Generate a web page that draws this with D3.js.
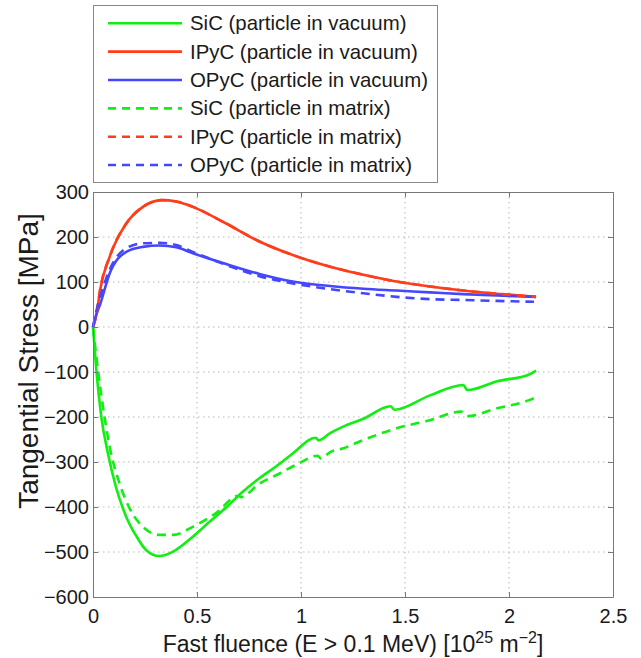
<!DOCTYPE html>
<html>
<head>
<meta charset="utf-8">
<script src="https://cdn.jsdelivr.net/npm/d3@7"></script>
<style>
  body { margin: 0; background: #fff; }
  svg { display: block; font-family: "Liberation Sans", Arial, sans-serif; }
</style>
</head>
<body>
<div id="chart"></div>
<script>
// values: fast fluence [1e25 m^-2] vs tangential stress [MPa]
var ipycVacX = [0, 0.018, 0.034, 0.08, 0.16, 0.24, 0.33, 0.40, 0.48, 0.64, 0.80, 0.96, 1.14, 1.30, 1.46, 1.62, 1.78, 1.94, 2.13];
var ipycVacY = [0, 31, 82, 156, 230, 267, 282, 279, 267, 230, 190, 160, 134, 116, 101, 90, 81, 74, 67];

var opycVacX = [0, 0.016, 0.034, 0.08, 0.16, 0.24, 0.32, 0.40, 0.48, 0.64, 0.80, 0.96, 1.14, 1.30, 1.46, 1.62, 1.78, 1.94, 2.13];
var opycVacY = [0, 28, 50, 119, 167, 178, 181, 177, 164, 140, 118, 101, 91, 85, 81, 77, 73, 70, 67];

var sicVacX = [0, 0.016, 0.04, 0.072, 0.11, 0.16, 0.21, 0.256, 0.32, 0.385, 0.48, 0.56, 0.64, 0.72, 0.80, 0.88, 0.96, 1.07, 1.085, 1.14, 1.20, 1.30, 1.43, 1.45, 1.62, 1.78, 1.80, 1.94, 2.10, 2.13];
var sicVacY = [0, -96, -200, -281, -355, -422, -466, -496, -509, -499, -466, -433, -401, -366, -336, -310, -281, -246, -252, -236, -222, -204, -176, -184, -152, -129, -140, -121, -105, -97];

var sicMatX = [0, 0.024, 0.048, 0.08, 0.128, 0.176, 0.24, 0.32, 0.385, 0.48, 0.59, 0.70, 0.71, 0.80, 0.90, 0.99, 1.08, 1.095, 1.14, 1.20, 1.30, 1.46, 1.62, 1.77, 1.80, 1.94, 2.10, 2.13];
var sicMatY = [0, -96, -177, -266, -348, -403, -444, -462, -462, -444, -414, -375, -378, -348, -325, -303, -286, -292, -278, -270, -251, -225, -207, -188, -198, -181, -162, -156];

var ipycMatX = [0, 0.018, 0.034, 0.08, 0.16, 0.24, 0.33, 0.40, 0.48, 0.64, 0.80, 0.96, 1.14, 1.30, 1.46, 1.62, 1.78, 1.94, 2.13];
var ipycMatY = [0, 31, 82, 156, 230, 267, 282, 279, 267, 230, 190, 160, 134, 116, 101, 90, 81, 74, 67];

var opycMatX = [0, 0.016, 0.04, 0.08, 0.16, 0.24, 0.32, 0.40, 0.48, 0.64, 0.80, 0.96, 1.14, 1.30, 1.46, 1.62, 1.78, 1.94, 2.12];
var opycMatY = [0, 35, 75, 127, 175, 186, 187, 182, 167, 138, 113, 97, 84, 75, 67, 62, 60, 58, 56];

var xTicks = [0, 0.5, 1, 1.5, 2, 2.5];
var yTicks = [-600, -500, -400, -300, -200, -100, 0, 100, 200, 300];

var seriesNames = ["SiC (particle in vacuum)", "IPyC (particle in vacuum)", "OPyC (particle in vacuum)",
                   "SiC (particle in matrix)", "IPyC (particle in matrix)", "OPyC (particle in matrix)"];

var W = 641, H = 658;
var plotLeft = 93, plotRight = 613, plotTop = 192, plotBottom = 597;

var green = "#11ee11", red = "#ff3d1a", blue = "#4646ff";

var series = [
  { name: seriesNames[0], xs: sicVacX, ys: sicVacY, color: green, dash: null },
  { name: seriesNames[1], xs: ipycVacX, ys: ipycVacY, color: red, dash: null },
  { name: seriesNames[2], xs: opycVacX, ys: opycVacY, color: blue, dash: null },
  { name: seriesNames[3], xs: sicMatX, ys: sicMatY, color: green, dash: "9,6" },
  { name: seriesNames[4], xs: ipycMatX, ys: ipycMatY, color: red, dash: "9,6" },
  { name: seriesNames[5], xs: opycMatX, ys: opycMatY, color: blue, dash: "9,6" }
];

var svg = d3.select("#chart").append("svg")
    .attr("width", W)
    .attr("height", H);

var x = d3.scaleLinear().domain([0, 2.5]).range([plotLeft, plotRight]);
var y = d3.scaleLinear().domain([-600, 300]).range([plotBottom, plotTop]);

// dotted grid
var grid = svg.append("g").attr("class", "grid");
grid.selectAll("line.gx")
    .data(xTicks.slice(1, -1))
    .enter().append("line")
    .attr("x1", function (d) { return x(d); })
    .attr("x2", function (d) { return x(d); })
    .attr("y1", plotTop).attr("y2", plotBottom)
    .attr("stroke", "#b5b5b5").attr("stroke-width", 1)
    .attr("stroke-dasharray", "1.5,3.5");
grid.selectAll("line.gy")
    .data(yTicks.slice(1, -1))
    .enter().append("line")
    .attr("y1", function (d) { return y(d); })
    .attr("y2", function (d) { return y(d); })
    .attr("x1", plotLeft).attr("x2", plotRight)
    .attr("stroke", "#b5b5b5").attr("stroke-width", 1)
    .attr("stroke-dasharray", "1.5,3.5");

// curves
var line = d3.line()
    .x(function (d) { return x(d[0]); })
    .y(function (d) { return y(d[1]); })
    .curve(d3.curveMonotoneX);

svg.append("g").selectAll("path")
    .data(series)
    .enter().append("path")
    .attr("d", function (s) { return line(d3.zip(s.xs, s.ys)); })
    .attr("fill", "none")
    .attr("stroke", function (s) { return s.color; })
    .attr("stroke-width", 2.6)
    .attr("stroke-dasharray", function (s) { return s.dash; });

// axes (ticks inside, box all round)
var axisColor = "#777";
var gBottom = svg.append("g")
    .attr("transform", "translate(0," + plotBottom + ")")
    .call(d3.axisBottom(x).tickValues(xTicks).tickFormat(d3.format("")).tickSizeInner(-5).tickSizeOuter(0).tickPadding(12));
var gLeft = svg.append("g")
    .attr("transform", "translate(" + plotLeft + ",0)")
    .call(d3.axisLeft(y).tickValues(yTicks).tickSizeInner(-5).tickSizeOuter(0).tickPadding(4));
var gTop = svg.append("g")
    .attr("transform", "translate(0," + plotTop + ")")
    .call(d3.axisTop(x).tickValues(xTicks).tickFormat("").tickSizeInner(-5).tickSizeOuter(0));
var gRight = svg.append("g")
    .attr("transform", "translate(" + plotRight + ",0)")
    .call(d3.axisRight(y).tickValues(yTicks).tickFormat("").tickSizeInner(-5).tickSizeOuter(0));

[gBottom, gLeft, gTop, gRight].forEach(function (g) {
    g.select(".domain").attr("stroke", axisColor);
    g.selectAll(".tick line").attr("stroke", axisColor);
    g.selectAll(".tick text")
        .attr("fill", "#1a1a1a")
        .style("font-size", "20px")
        .style("font-family", "'Liberation Sans', Arial, sans-serif");
});

// axis labels
var xLabel = svg.append("text")
    .attr("x", (plotLeft + plotRight) / 2)
    .attr("y", 652)
    .attr("text-anchor", "middle")
    .attr("fill", "#1a1a1a")
    .style("font-size", "23px");
xLabel.append("tspan").text("Fast fluence (E > 0.1 MeV) [10");
xLabel.append("tspan").attr("dy", -9).style("font-size", "16px").text("25");
xLabel.append("tspan").attr("dy", 9).text(" m");
xLabel.append("tspan").attr("dy", -9).style("font-size", "16px").text("\u22122");
xLabel.append("tspan").attr("dy", 9).text("]");

svg.append("text")
    .attr("transform", "translate(38,361) rotate(-90)")
    .attr("text-anchor", "middle")
    .attr("fill", "#1a1a1a")
    .style("font-size", "28px")
    .text("Tangential Stress [MPa]");

// legend
var legend = svg.append("g").attr("class", "legend");
legend.append("rect")
    .attr("x", 93.5).attr("y", 5.5)
    .attr("width", 344).attr("height", 177)
    .attr("fill", "#fff")
    .attr("stroke", "#888")
    .attr("stroke-width", 1);

var item = legend.selectAll("g.item")
    .data(series)
    .enter().append("g")
    .attr("class", "item")
    .attr("transform", function (d, i) { return "translate(0," + (23.3 + i * 28.35) + ")"; });
item.append("line")
    .attr("x1", 108).attr("x2", 182)
    .attr("y1", 0).attr("y2", 0)
    .attr("stroke", function (d) { return d.color; })
    .attr("stroke-width", 2.6)
    .attr("stroke-dasharray", function (d) { return d.dash ? "8,6" : null; });
item.append("text")
    .attr("x", 190)
    .attr("y", 7)
    .attr("fill", "#1a1a1a")
    .style("font-size", "20.4px")
    .text(function (d) { return d.name; });
</script>
</body>
</html>
